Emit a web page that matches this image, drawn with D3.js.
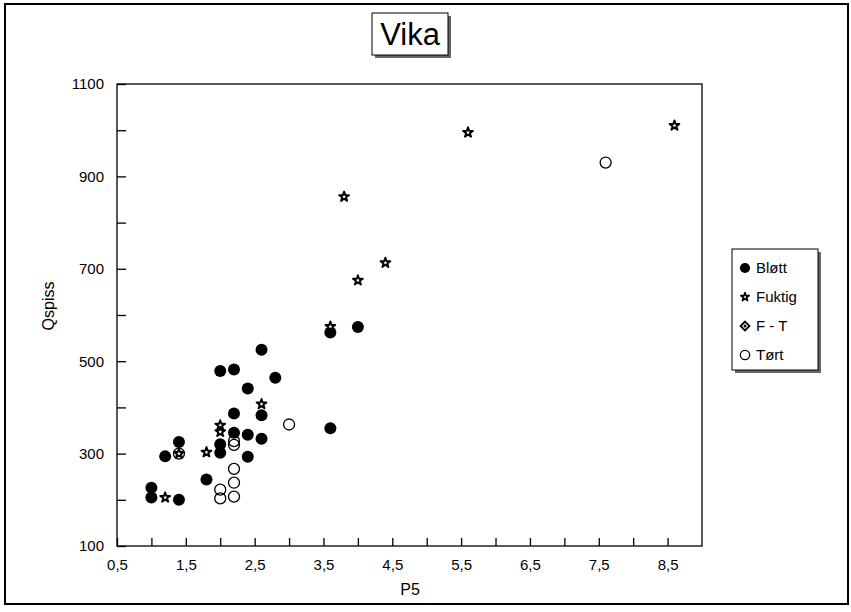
<!DOCTYPE html>
<head>
  <meta charset="utf-8">
  <title>Vika</title>
  <script src="https://cdn.jsdelivr.net/npm/d3@7"></script>
  <style>
  body {
    margin: 0;
    background: white;
    font-family: "Liberation Sans", Arial, sans-serif;
  }
  text {
    fill: black;
  }
  .axis path, .axis line {
    stroke: black;
    stroke-width: 1.3px;
  }
  .axis text {
    font-size: 15px;
    font-family: "Liberation Sans", Arial, sans-serif;
  }
  </style>
</head>
<body>
<script type="text/javascript">
// Data: P5 (x) and Qspiss (y) for each group
var bloettX = [1.0, 1.0, 1.2, 1.4, 1.4, 1.8, 2.0, 2.0, 2.0, 2.2, 2.2, 2.2, 2.4, 2.4, 2.4, 2.6, 2.6, 2.6, 2.8, 3.6, 3.6, 4.0];
var bloettY = [226, 205, 294, 325, 200, 244, 479, 320, 302, 482, 387, 345, 441, 341, 293, 525, 383, 332, 464, 562, 355, 574];
var fuktigX = [1.2, 1.4, 1.8, 2.0, 2.0, 2.6, 3.6, 3.8, 4.0, 4.4, 5.6, 8.6];
var fuktigY = [205, 300, 303, 361, 347, 407, 575, 856, 675, 713, 995, 1010];
var ftX = [];
var ftY = [];
var toertX = [1.4, 2.0, 2.0, 2.2, 2.2, 2.2, 2.2, 2.2, 3.0, 7.6];
var toertY = [300, 222, 203, 327, 319, 267, 237, 207, 363, 930];

var groups = ["Bløtt", "Fuktig", "F - T", "Tørt"];
var xTicks = [0.5, 1, 1.5, 2, 2.5, 3, 3.5, 4, 4.5, 5, 5.5, 6, 6.5, 7, 7.5, 8, 8.5];
var yTicks = [100, 200, 300, 400, 500, 600, 700, 800, 900, 1000, 1100];

var width = 851, height = 612;
var plot = {left: 117, top: 84, right: 702, bottom: 546};

var svg = d3.select("body").append("svg")
    .attr("width", width)
    .attr("height", height);

// outer frame
svg.append("rect")
    .attr("x", 5).attr("y", 4)
    .attr("width", 843).attr("height", 600)
    .attr("fill", "none")
    .attr("stroke", "black")
    .attr("stroke-width", 2);

// title with a shadowed box
svg.append("rect")
    .attr("x", 375).attr("y", 16)
    .attr("width", 76).attr("height", 42)
    .attr("fill", "#666");
svg.append("rect")
    .attr("x", 372).attr("y", 13)
    .attr("width", 76).attr("height", 42)
    .attr("fill", "white")
    .attr("stroke", "black")
    .attr("stroke-width", 1);
svg.append("text")
    .attr("x", 410).attr("y", 45)
    .attr("text-anchor", "middle")
    .style("font-size", "31px")
    .text("Vika");

var x = d3.scaleLinear().domain([0.5, 9]).range([plot.left, plot.right]);
var y = d3.scaleLinear().domain([100, 1100]).range([plot.bottom, plot.top]);

// plot box
svg.append("rect")
    .attr("x", plot.left).attr("y", plot.top)
    .attr("width", plot.right - plot.left).attr("height", plot.bottom - plot.top)
    .attr("fill", "none")
    .attr("stroke", "black")
    .attr("stroke-width", 1.3);

// axes, ticks point into the plot, labels only every other tick
var xAxis = svg.append("g")
    .attr("class", "axis")
    .attr("transform", "translate(0," + plot.bottom + ")")
    .call(d3.axisBottom(x).tickValues(xTicks).tickSizeInner(-8).tickSizeOuter(0).tickPadding(13)
      .tickFormat(function(d, i) { return i % 2 == 0 ? String(d).replace(".", ",") : ""; }));

var yAxis = svg.append("g")
    .attr("class", "axis")
    .attr("transform", "translate(" + plot.left + ",0)")
    .call(d3.axisLeft(y).tickValues(yTicks).tickSizeInner(-9).tickSizeOuter(0).tickPadding(13)
      .tickFormat(function(d, i) { return i % 2 == 0 ? d : ""; }));
svg.selectAll(".axis .domain").remove();

// axis titles
svg.append("text")
    .attr("x", 410).attr("y", 595)
    .attr("text-anchor", "middle")
    .style("font-size", "16px")
    .text("P5");
svg.append("text")
    .attr("transform", "translate(54,306) rotate(-90)")
    .attr("text-anchor", "middle")
    .style("font-size", "16px")
    .text("Qspiss");

// marker drawing helpers
var star = d3.symbol().type(d3.symbolStar);
function drawMarker(sel, kind, scale) {
  if (kind == "Bløtt") {
    sel.append("circle").attr("r", 6 * scale).attr("fill", "black");
  } else if (kind == "Fuktig") {
    sel.append("path").attr("d", star.size(30 * scale * scale)())
      .attr("fill", "white").attr("stroke", "black").attr("stroke-width", 1.9 * scale)
      .attr("stroke-linejoin", "round");
  } else if (kind == "F - T") {
    sel.append("path").attr("d", d3.symbol().type(d3.symbolDiamond2).size(70 * scale * scale)())
      .attr("fill", "white").attr("stroke", "black").attr("stroke-width", 1.8);
    sel.append("circle").attr("r", 1.5).attr("fill", "black");
  } else {
    sel.append("circle").attr("r", 5.5 * scale)
      .attr("fill", "none").attr("stroke", "black").attr("stroke-width", 1.3);
  }
}

var series = [
  {name: "Bløtt", xs: bloettX, ys: bloettY},
  {name: "Fuktig", xs: fuktigX, ys: fuktigY},
  {name: "F - T", xs: ftX, ys: ftY},
  {name: "Tørt", xs: toertX, ys: toertY}
];

series.forEach(function(s) {
  var pts = s.xs.map(function(v, i) { return [v, s.ys[i]]; });
  svg.append("g").selectAll("g")
    .data(pts)
    .enter().append("g")
      .attr("transform", function(d) { return "translate(" + x(d[0]) + "," + y(d[1]) + ")"; })
      .each(function() { drawMarker(d3.select(this), s.name, 1); });
});

// legend
var lg = svg.append("g").attr("transform", "translate(732,249)");
lg.append("rect").attr("x", 3).attr("y", 3).attr("width", 86).attr("height", 121).attr("fill", "#666");
lg.append("rect").attr("width", 86).attr("height", 121)
    .attr("fill", "white").attr("stroke", "black").attr("stroke-width", 1);
var items = lg.selectAll("g.item")
    .data(groups)
    .enter().append("g")
      .attr("class", "item")
      .attr("transform", function(d, i) { return "translate(13," + (19 + i * 29) + ")"; });
items.each(function(d) { drawMarker(d3.select(this), d, 0.85); });
items.append("text")
    .attr("x", 11).attr("y", 5)
    .style("font-size", "15px")
    .text(function(d) { return d; });
</script>
</body>
</html>
